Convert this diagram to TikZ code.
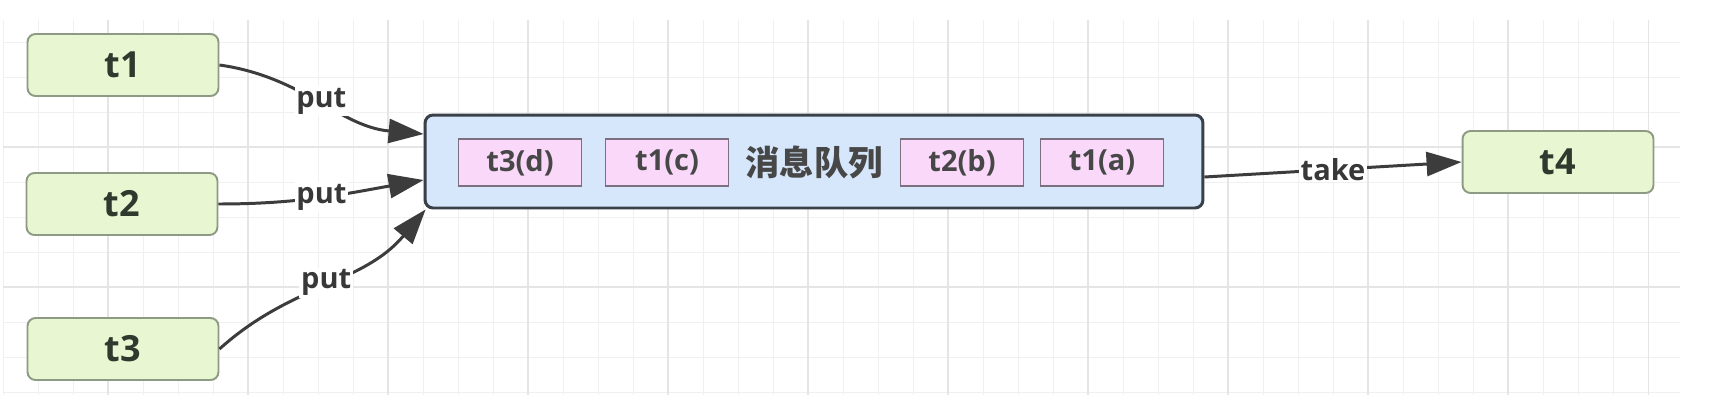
\documentclass[tikz,border=0pt]{standalone}
\usepackage{fontspec}
\setmainfont{Open Sans}
\newfontfamily\cjk{Noto Sans CJK SC}
\usepackage{xcolor}
\usetikzlibrary{
    arrows.meta,
    calc
}
\definecolor{threadfill}{HTML}{E8F6D1}
\definecolor{threadline}{HTML}{8E9B84}
\definecolor{threadtext}{HTML}{2F3A2F}
\definecolor{queuefill}{HTML}{D6E7FB}
\definecolor{queueline}{HTML}{3A4048}
\definecolor{msgfill}{HTML}{FAD8FA}
\definecolor{msgline}{HTML}{7C6F80}
\definecolor{flowline}{HTML}{3C3C3C}
\definecolor{gridminor}{HTML}{F0F0F0}
\definecolor{gridmajor}{HTML}{E5E5E5}

\tikzset{
    thread/.style={draw=threadline, fill=threadfill, line width=1.1pt, rounded corners=0.16cm,
        minimum width=3.82cm, minimum height=1.24cm, text=threadtext,
        font=\bfseries\fontsize{20.5}{24}\selectfont},
    queue/.style={draw=queueline, fill=queuefill, line width=1.7pt, rounded corners=0.16cm,
        minimum width=15.56cm, minimum height=1.86cm},
    msg/.style={draw=msgline, fill=msgfill, line width=0.8pt,
        minimum width=2.46cm, minimum height=0.94cm, text=black!72,
        font=\bfseries\fontsize{16.5}{20}\selectfont},
    qname/.style={text=black!72, font=\cjk\bfseries\fontsize{19.5}{23}\selectfont},
    flow/.style={draw=flowline, line width=1.7pt, -{Triangle[length=0.7cm, width=0.48cm]}},
    lbl/.style={fill=white, inner sep=1pt, text=black!78,
        font=\bfseries\fontsize{16.5}{19}\selectfont}
}

\begin{document}
\begin{tikzpicture}[x=0.02cm, y=-0.02cm]
    \useasboundingbox[fill=white] (0, 0) rectangle (1716, 416);
    \foreach \gx in {3, 38, ..., 1648}
        \draw[gridminor, line width=0.5pt] (\gx, 20) -- (\gx, 395);
    \foreach \gy in {42, 77, ..., 392}
        \draw[gridminor, line width=0.5pt] (3, \gy) -- (1680, \gy);
    \foreach \gx in {108, 248, ..., 1648}
        \draw[gridmajor, line width=0.6pt] (\gx, 20) -- (\gx, 395);
    \foreach \gy in {147, 287}
        \draw[gridmajor, line width=0.6pt] (3, \gy) -- (1680, \gy);

    \node[thread] (t1) at (123, 65) {t1};
    \node[thread] (t2) at (122, 204) {t2};
    \node[thread] (t3) at (123, 349) {t3};
    \node[thread] (t4) at (1558, 162) {t4};

    \node[queue] (q) at (814, 161.5) {};
    \node[msg] (md) at (520, 162.5) {t3(d)};
    \node[msg] (mc) at (667, 162.5) {t1(c)};
    \node[qname] (qn) at (814, 162) {消息队列};
    \node[msg] (mb) at (962, 162.5) {t2(b)};
    \node[msg] (ma) at (1102, 162.5) {t1(a)};

    \coordinate (in1) at ([yshift=0.55cm]q.west);
    \coordinate (in2) at ([yshift=-0.37cm]q.west);
    \coordinate (in3) at ([xshift=0.04cm]q.south west);
    \coordinate (out1) at ([yshift=-0.31cm]q.east);

    \draw[flow] (t1.east) to[out=-8, in=175] node[lbl] {put} (in1);
    \draw[flow] (t2.east) to[out=0, in=190] node[lbl] {put} (in2);
    \draw[flow] (t3.east) to[out=42, in=230] node[lbl] {put} (in3);
    \draw[flow] (out1) -- node[lbl] {take} (t4.west);
\end{tikzpicture}
\end{document}
